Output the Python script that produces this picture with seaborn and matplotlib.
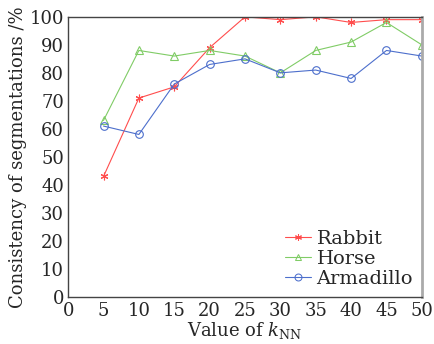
import pandas as pd
import seaborn as sns
import matplotlib.pyplot as plt

k_values = [5, 10, 15, 20, 25, 30, 35, 40, 45, 50]
rabbit = [43, 71, 75, 89, 100, 99, 100, 98, 99, 99]
horse = [63, 88, 86, 88, 86, 80, 88, 91, 98, 90]
armadillo = [61, 58, 76, 83, 85, 80, 81, 78, 88, 86]

series_names = ["Rabbit", "Horse", "Armadillo"]
colors = ["#ff4d4d", "#80cc66", "#4d6fcc"]
markers = ["*", "^", "o"]

df = pd.DataFrame({"k": k_values, "Rabbit": rabbit, "Horse": horse, "Armadillo": armadillo})
df = df.melt(id_vars="k", var_name="model", value_name="consistency")

sns.set_style("white")
plt.rcParams["font.family"] = ["DejaVu Serif"]
plt.rcParams["mathtext.fontset"] = "dejavuserif"

fig = plt.figure(figsize=(4.34, 3.44), dpi=100)
ax = fig.add_axes([0.157, 0.137, 0.815, 0.814])

sns.lineplot(data=df, x="k", y="consistency", hue="model", style="model",
             hue_order=series_names, style_order=series_names,
             palette=colors, markers=markers, dashes=False, ax=ax,
             linewidth=0.8, markersize=5.5)
for line, c in zip(ax.lines, colors):
    if line.get_marker() == "*":
        line.set_marker((6, 2, 0))
    line.set_markerfacecolor("none")
    line.set_markeredgecolor(c)
    line.set_markeredgewidth(0.8)

ax.set_xlim(0, 50)
ax.set_ylim(0, 100)
ax.set_xticks(range(0, 51, 5))
ax.set_yticks(range(0, 101, 10))
ax.tick_params(direction="in", length=3, labelsize=13, color="#333333")
ax.tick_params(axis="x", pad=4)
ax.tick_params(axis="y", pad=3)
ax.set_xlabel("Value of $k_{\\mathrm{NN}}$", fontsize=13, labelpad=0)
ax.set_ylabel("Consistency of segmentations /%", fontsize=13, labelpad=2)

for s in ["left", "bottom", "top"]:
    ax.spines[s].set_color("#444444")
    ax.spines[s].set_linewidth(1.0)
ax.spines["right"].set_color("#aaaaaa")
ax.spines["right"].set_linewidth(2.0)

handles, labels = ax.get_legend_handles_labels()
leg = ax.legend(handles, labels, loc="lower right", frameon=False, fontsize=14,
                handlelength=1.3, handletextpad=0.3, labelspacing=0.1,
                borderaxespad=0.05)
for h, c in zip(leg.legend_handles, colors):
    if h.get_marker() == "*":
        h.set_marker((6, 2, 0))
    h.set_markerfacecolor("none")
    h.set_markeredgecolor(c)
    h.set_markersize(5)

fig.savefig("out.png", dpi=100)
